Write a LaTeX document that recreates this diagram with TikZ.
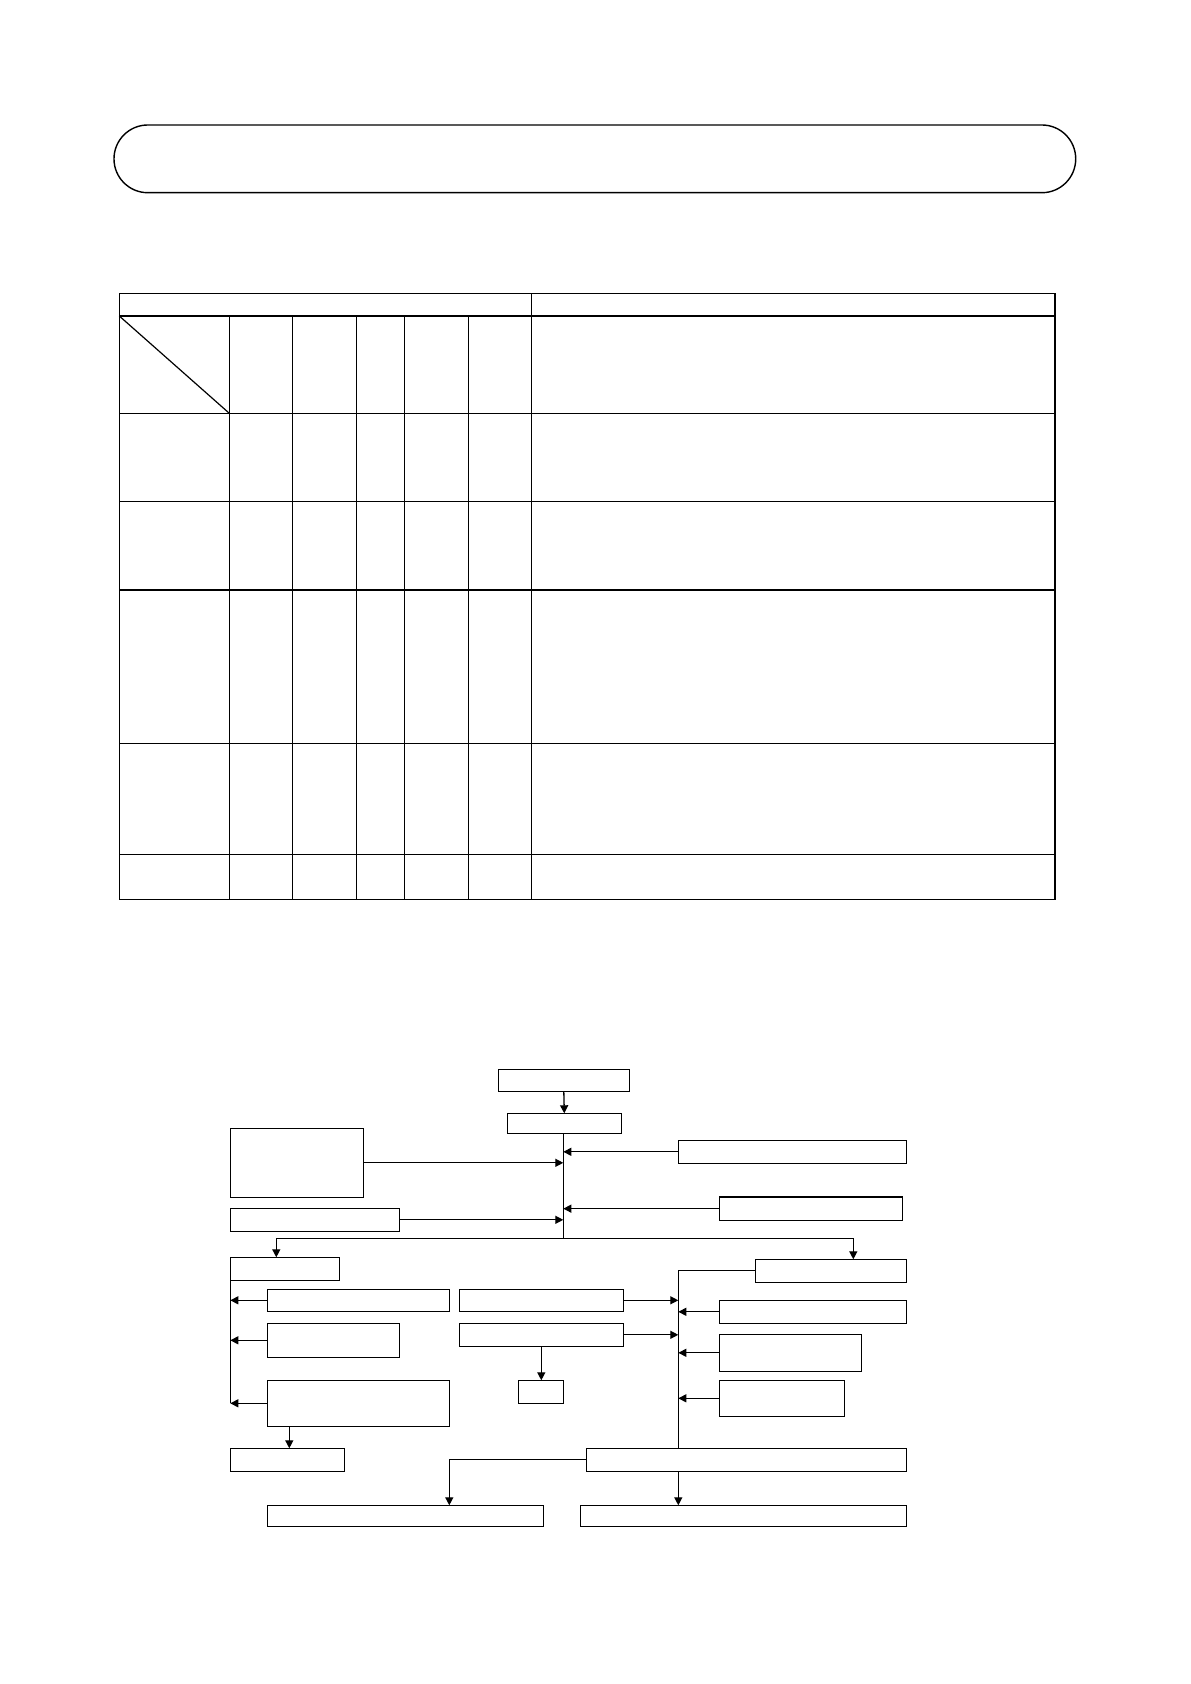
\documentclass[tikz,border=0pt]{standalone}
\usetikzlibrary{fit,arrows.meta}
\begin{document}
\begin{tikzpicture}[x=0.5pt,y=-0.5pt,
  box/.style={draw,line width=0.65pt,inner sep=0pt,outer sep=0pt},
  conn/.style={line width=0.65pt},
  arr/.style={conn,-{Triangle[length=4pt,width=4pt]}},
  grid/.style={line width=0.75pt}]
\useasboundingbox (0,0) rectangle (1190,1684);
% title stadium
\node[draw,line width=0.7pt,rounded corners=16.9pt,inner sep=0pt,fit={(114,125) (1075.7,192.7)}] (title) {};
% table
\coordinate (tl) at (119.3,293.3);
\coordinate (br) at (1055,899.3);
\draw[grid] (tl) rectangle (br);
\foreach \y in {316,413.3,501.3,590,743.3,854.3} \draw[grid] (119.3,\y) -- (1055,\y);
\foreach \x in {229.3,292.3,356.3,404.3,468.3} \draw[grid] (\x,316) -- (\x,899.3);
\draw[grid] (531.7,293.3) -- (531.7,899.3);
\draw[line width=0.6pt] (119.3,316) -- (229.3,413.3);
% flowchart boxes
\node[box,fit={(498.3,1069.3) (629.3,1091.3)}] (A) {};
\node[box,fit={(507.3,1113.3) (621.3,1133.3)}] (B) {};
\node[box,fit={(230.3,1128.3) (363.3,1197.3)}] (C) {};
\node[box,fit={(678.3,1140.3) (906.3,1163.3)}] (D) {};
\node[box,fit={(230.3,1208.3) (399.3,1231.3)}] (E) {};
\node[box,fit={(719.3,1197) (902.3,1220.3)}] (F) {};
\node[box,fit={(230.3,1257.3) (339.3,1280.3)}] (G) {};
\node[box,fit={(755.3,1259.3) (906.3,1282.3)}] (H) {};
\node[box,fit={(267.3,1289.3) (449.3,1311.3)}] (I) {};
\node[box,fit={(267.3,1323.3) (399.3,1357.3)}] (J) {};
\node[box,fit={(267.3,1380.3) (449.3,1426.3)}] (K) {};
\node[box,fit={(230.3,1448.3) (344.3,1471.3)}] (L) {};
\node[box,fit={(459.3,1289.3) (623.3,1311.3)}] (M) {};
\node[box,fit={(459.3,1323.3) (623.3,1346.3)}] (N) {};
\node[box,fit={(518.3,1380.3) (563.3,1403.3)}] (O) {};
\node[box,fit={(719.3,1300.3) (906.3,1323.3)}] (Q) {};
\node[box,fit={(719.3,1334.3) (861.3,1371.3)}] (R) {};
\node[box,fit={(719.3,1380.3) (844.3,1416.3)}] (S) {};
\node[box,fit={(586.3,1448.3) (906.3,1471.3)}] (P) {};
\node[box,fit={(267.3,1505.3) (543.3,1526.3)}] (T) {};
\node[box,fit={(580.3,1505.3) (906.3,1526.3)}] (U) {};
% coordinates
\coordinate (m1) at (563.3,1238.3);
\coordinate (gin) at (276.3,1257.3);
\coordinate (hin) at (853.3,1259.3);
\coordinate (lb) at (230.3,1403.3);
\coordinate (rb) at (678.3,1270.3);
\coordinate (kd) at (289.3,1426.3);
\coordinate (tin) at (449.3,1505.3);
% main trunk
\draw[arr] (A.south) -- (B.north);
\draw[conn] (B.south -| m1) -- (m1);
\draw[arr] (C.east) -- (C.east -| m1);
\draw[arr] (D.west) -- (D.west -| m1);
\draw[arr] (E.east) -- (E.east -| m1);
\draw[arr] (F.west) -- (F.west -| m1);
\draw[arr] (m1) -| (gin);
\draw[arr] (m1) -| (hin);
% left bus
\draw[conn] (G.south west) -- (lb);
\draw[arr] (I.west) -- (I.west -| lb);
\draw[arr] (J.west) -- (J.west -| lb);
\draw[arr] (K.west) -- (K.west -| lb);
\draw[arr] (kd) -- (kd |- L.north);
% right bus
\draw[conn] (H.west) -- (H.west -| rb) -- (rb |- P.north);
\draw[arr] (M.east) -- (M.east -| rb);
\draw[arr] (N.east) -- (N.east -| rb);
\draw[arr] (N.south) -- (N.south |- O.north);
\draw[arr] (Q.west) -- (Q.west -| rb);
\draw[arr] (R.west) -- (R.west -| rb);
\draw[arr] (S.west) -- (S.west -| rb);
\draw[arr] (P.west) -| (tin);
\draw[arr] (P.south -| rb) -- (U.north -| rb);
\end{tikzpicture}
\end{document}
